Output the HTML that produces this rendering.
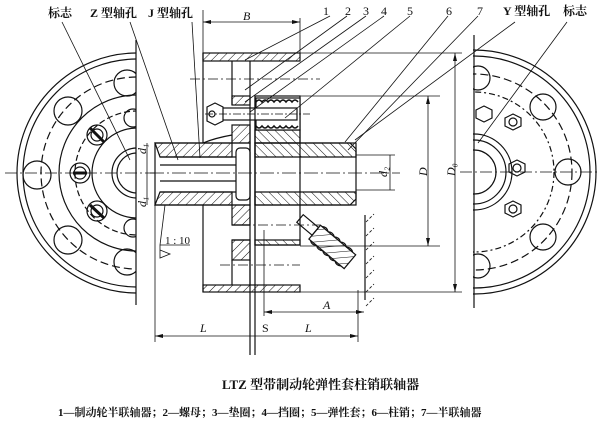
<!DOCTYPE html>
<html><head><meta charset="utf-8"><style>
body{margin:0;background:#fff;width:603px;height:423px;overflow:hidden}
svg{display:block}
text{font-family:"Liberation Serif","Noto Serif CJK SC",serif;fill:#111}
.cj{font-family:"Liberation Sans","Noto Sans CJK SC",sans-serif;font-weight:bold}
</style></head><body>
<svg width="603" height="423" viewBox="0 0 603 423" xmlns="http://www.w3.org/2000/svg">
<defs>
<pattern id="h" width="6" height="6" patternUnits="userSpaceOnUse" patternTransform="rotate(45)"><line x1="0" y1="0" x2="0" y2="6" stroke="#111" stroke-width="1"/></pattern>
<pattern id="h2" width="6" height="6" patternUnits="userSpaceOnUse" patternTransform="rotate(-45)"><line x1="0" y1="0" x2="0" y2="6" stroke="#111" stroke-width="1"/></pattern>
<clipPath id="cl"><rect x="0" y="40" width="136" height="270"/></clipPath>
<clipPath id="cr"><rect x="473" y="40" width="130" height="270"/></clipPath>
</defs>
<g fill="none" stroke="#111" stroke-width="1.2">
<!-- left end view -->
<g clip-path="url(#cl)">
<circle cx="137" cy="173" r="120"/><circle cx="137" cy="173" r="114"/>
<circle cx="137" cy="173" r="96" stroke-dasharray="8 4"/>
<circle cx="137" cy="173" r="78"/><circle cx="137" cy="173" r="62" stroke-dasharray="6 3"/>
<circle cx="137" cy="173" r="45"/><circle cx="137" cy="173" r="25"/><circle cx="137" cy="173" r="20"/>
<circle cx="68" cy="111" r="14"/><circle cx="37" cy="175" r="14"/><circle cx="68" cy="240" r="14"/>
<circle cx="127" cy="83" r="13"/><circle cx="127" cy="262" r="13"/>
<circle cx="97" cy="135" r="10"/><circle cx="97" cy="135" r="6"/>
<circle cx="80" cy="173" r="10"/><circle cx="80" cy="173" r="6"/>
<circle cx="97" cy="211" r="10"/><circle cx="97" cy="211" r="6"/>
<circle cx="133" cy="118" r="9"/><circle cx="133" cy="228" r="9"/>
<line x1="90" y1="128" x2="104" y2="142" stroke-width="3"/><line x1="73" y1="173" x2="87" y2="173" stroke-width="3"/><line x1="90" y1="205" x2="104" y2="218" stroke-width="3"/>
</g>
<line x1="136" y1="40" x2="136" y2="305"/>
<line x1="5" y1="173" x2="155" y2="173" stroke-width="0.8" stroke-dasharray="12 3 2 3"/>
<!-- right end view -->
<g clip-path="url(#cr)">
<circle cx="474" cy="172" r="122"/><circle cx="474" cy="172" r="116"/>
<circle cx="474" cy="172" r="98" stroke-dasharray="8 4"/>
<circle cx="474" cy="172" r="80" stroke-dasharray="6 3 2 3"/>
<circle cx="474" cy="172" r="38"/><circle cx="474" cy="172" r="32"/><circle cx="474" cy="172" r="22"/>
<circle cx="543" cy="107" r="13"/><circle cx="568" cy="172" r="13"/><circle cx="543" cy="237" r="13"/>
<circle cx="478" cy="78" r="12"/><circle cx="478" cy="266" r="12"/>
<polygon points="505,118 513,114 521,118 521,126 513,130 505,126"/><circle cx="513" cy="122" r="4"/>
<polygon points="509,164 517,160 525,164 525,172 517,176 509,172"/><circle cx="517" cy="168" r="4"/>
<polygon points="505,205 513,201 521,205 521,213 513,217 505,213"/><circle cx="513" cy="209" r="4"/>
<polygon points="476,110 484,106 492,110 492,118 484,122 476,118"/>
</g>
<line x1="474" y1="35" x2="474" y2="308"/>
<line x1="460" y1="172" x2="600" y2="172" stroke-width="0.8" stroke-dasharray="12 3 2 3"/>

<!-- brake drum rim -->
<rect x="203" y="53" width="97" height="8" fill="url(#h)"/>
<rect x="203" y="285" width="97" height="7" fill="url(#h)"/>
<line x1="203" y1="53" x2="203" y2="143"/><line x1="203" y1="205" x2="203" y2="292"/>
<!-- drum web -->
<path d="M232 61 V105 M250 61 V96" />
<rect x="232" y="96" width="18" height="9" fill="url(#h)"/>
<rect x="232" y="125" width="18" height="18" fill="url(#h)"/>
<path d="M203 143 Q215 138 232 135" />
<rect x="232" y="205" width="18" height="20" fill="url(#h)"/>
<rect x="232" y="240" width="18" height="20" fill="url(#h)"/>
<path d="M232 260 V285 M250 260 V285"/>
<line x1="232" y1="225" x2="250" y2="225"/><line x1="232" y1="240" x2="250" y2="240"/>
<!-- left hub -->
<path d="M155 143 H232 V157 H160 Z" fill="url(#h)"/>
<path d="M155 205 H232 V192 H160 Z" fill="url(#h)"/>
<rect x="155" y="143" width="95" height="62"/>
<line x1="160" y1="157" x2="236" y2="157"/><line x1="160" y1="192" x2="236" y2="192"/>
<line x1="160" y1="165" x2="236" y2="165"/><line x1="160" y1="181" x2="236" y2="181"/>
<rect x="236" y="148" width="14" height="52" rx="4" fill="#fff"/>
<!-- right half -->
<path d="M255 130 H300 V143 H255 Z" fill="url(#h2)"/>
<path d="M255 143 H350 L356 149 V157 H255 Z" fill="url(#h2)"/>
<path d="M255 205 H350 L356 199 V192 H255 Z" fill="url(#h2)"/>
<rect x="255" y="96" width="45" height="149"/>
<rect x="255" y="143" width="101" height="62"/>
<rect x="255" y="240" width="45" height="5" fill="url(#h2)"/>
<line x1="240" y1="225" x2="320" y2="225" stroke-width="0.8" stroke-dasharray="10 3 2 3"/>
<line x1="220" y1="265" x2="300" y2="265" stroke-width="0.8" stroke-dasharray="10 3 2 3"/>
<line x1="190" y1="79" x2="320" y2="79" stroke-width="0.8" stroke-dasharray="10 3 2 3"/>
<!-- springs & pin -->
<rect x="256" y="98" width="44" height="32" fill="#fff"/>
<path d="M256 102 q3 -4 6 0 q3 -4 6 0 q3 -4 6 0 q3 -4 6 0 q3 -4 6 0 q3 -4 6 0 q3 -4 6 0 M256 126 q3 4 6 0 q3 4 6 0 q3 4 6 0 q3 4 6 0 q3 4 6 0 q3 4 6 0 q3 4 6 0" stroke-width="1.5"/>
<rect x="222" y="108" width="75" height="12" fill="#fff"/>
<polygon points="207,107 215,103 223,107 223,121 215,125 207,121" fill="#fff"/>
<circle cx="212" cy="114" r="3"/>
<line x1="205" y1="114" x2="310" y2="114" stroke-width="0.8" stroke-dasharray="8 2 2 2"/>
<!-- shaft gap -->
<line x1="250" y1="96" x2="250" y2="355"/><line x1="255" y1="96" x2="255" y2="355"/>
<!-- angled pin -->
<g transform="rotate(40 330 245)">
<rect x="290" y="239" width="20" height="10"/>
<rect x="310" y="236" width="46" height="18" fill="url(#h)"/>
<path d="M312 236 q4 -3 8 0 q4 -3 8 0 q4 -3 8 0 q4 -3 8 0 q4 -3 8 0 M312 254 q4 3 8 0 q4 3 8 0 q4 3 8 0 q4 3 8 0 q4 3 8 0" />
</g>
<line x1="365" y1="215" x2="365" y2="300"/>
<path d="M366 222 l8 -8 M366 236 l8 -8 M366 250 l8 -8 M366 264 l8 -8 M366 278 l8 -8 M366 292 l8 -8 M366 306 l8 -8" stroke-width="0.8" stroke-dasharray="3 2"/>
<!-- center line -->
<line x1="150" y1="173" x2="400" y2="173" stroke-width="0.8" stroke-dasharray="14 3 2 3"/>
<!-- extension/dim lines -->
<line x1="300" y1="53" x2="462" y2="53" stroke-width="0.8"/>
<line x1="300" y1="96" x2="440" y2="96" stroke-width="0.8"/>
<line x1="300" y1="246" x2="440" y2="246" stroke-width="0.8"/>
<line x1="300" y1="292" x2="462" y2="292" stroke-width="0.8"/>
<line x1="428" y1="96" x2="428" y2="246" stroke-width="0.8"/>
<line x1="455" y1="53" x2="455" y2="292" stroke-width="0.8"/>
<line x1="356" y1="155" x2="395" y2="155" stroke-width="0.8"/><line x1="356" y1="190" x2="395" y2="190" stroke-width="0.8"/>
<line x1="390" y1="155" x2="390" y2="190" stroke-width="0.8"/>
<line x1="203" y1="10" x2="203" y2="53" stroke-width="0.8"/>
<line x1="300" y1="18" x2="300" y2="53" stroke-width="0.8"/>
<line x1="203" y1="22" x2="300" y2="22" stroke-width="0.8"/>
<line x1="155" y1="205" x2="155" y2="342" stroke-width="0.8"/>
<line x1="358" y1="290" x2="358" y2="342" stroke-width="0.8"/>
<line x1="155" y1="336" x2="358" y2="336" stroke-width="0.8"/>
<line x1="264" y1="312" x2="364" y2="312" stroke-width="0.8"/>
<line x1="264" y1="230" x2="264" y2="316" stroke-width="0.8"/>
<line x1="147" y1="143" x2="147" y2="205" stroke-width="0.8"/>
<!-- taper mark -->
<polyline points="160,245 160,258 170,254 160,250" stroke-width="0.8"/>
<line x1="160" y1="245" x2="190" y2="245" stroke-width="0.8"/>
<line x1="165" y1="205" x2="160" y2="245" stroke-width="0.8"/>
<!-- leader lines -->
<g stroke-width="0.8">
<line x1="62" y1="22" x2="130" y2="160"/>
<line x1="130" y1="22" x2="178" y2="160"/>
<line x1="192" y1="22" x2="200" y2="158"/>
<line x1="330" y1="16" x2="245" y2="60"/>
<line x1="347" y1="16" x2="245" y2="90"/>
<line x1="366" y1="16" x2="245" y2="102"/>
<line x1="384" y1="16" x2="250" y2="112"/>
<line x1="410" y1="16" x2="285" y2="118"/>
<line x1="448" y1="16" x2="345" y2="142"/>
<line x1="478" y1="16" x2="348" y2="150"/>
<line x1="515" y1="22" x2="355" y2="140"/>
<line x1="567" y1="22" x2="478" y2="143"/>
</g>
</g>
<g fill="#111">
<polygon points="203,22 211,20 211,24"/><polygon points="300,22 292,20 292,24"/>
<polygon points="428,96 426,104 430,104"/><polygon points="428,246 426,238 430,238"/>
<polygon points="455,53 453,61 457,61"/><polygon points="455,292 453,284 457,284"/>
<polygon points="155,336 163,334 163,338"/><polygon points="358,336 350,334 350,338"/>
<polygon points="264,312 272,310 272,314"/><polygon points="364,312 356,310 356,314"/>
</g>
<g font-size="12" font-style="italic">
<text x="243" y="20">B</text>
<text x="420" y="175" transform="rotate(-90 424 172)">D</text>
<text x="448" y="175" transform="rotate(-90 452 172)">D₀</text>
<text x="378" y="178" transform="rotate(-90 382 173)">d₂</text>
<text x="140" y="152" transform="rotate(-90 144 150)">d₁</text>
<text x="140" y="205" transform="rotate(-90 144 203)">d₁</text>
<text x="323" y="309">A</text>
<text x="200" y="332">L</text>
<text x="262" y="332" font-style="normal">S</text>
<text x="305" y="332">L</text>
</g>
<text x="165" y="244" font-size="11">1 : 10</text>
<g font-size="12">
<text x="323" y="15">1</text><text x="345" y="15">2</text><text x="363" y="15">3</text><text x="381" y="15">4</text><text x="407" y="15">5</text><text x="446" y="15">6</text><text x="477" y="15">7</text>
</g>
<g class="cj" font-size="12">
<text x="48" y="17">标志</text>
<text x="90" y="17">Z 型轴孔</text>
<text x="148" y="17">J 型轴孔</text>
<text x="503" y="15">Y 型轴孔</text>
<text x="563" y="15">标志</text>
<text x="222" y="389" font-size="13">LTZ 型带制动轮弹性套柱销联轴器</text>
<text x="58" y="416" font-size="11">1—制动轮半联轴器；2—螺母；3—垫圈；4—挡圈；5—弹性套；6—柱销；7—半联轴器</text>
</g>
</svg>
</body></html>
